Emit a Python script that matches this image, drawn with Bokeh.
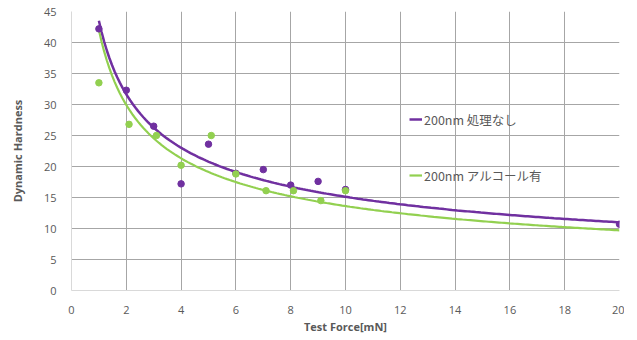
import numpy as np
from bokeh.plotting import figure
from bokeh.models import Legend, LegendItem, Range1d, FixedTicker
from bokeh.embed import file_html
from bokeh.resources import INLINE

# Data
force_a = [1, 2, 3, 4, 5, 6, 7, 8, 9, 10, 20]
hard_a = [42.2, 32.3, 26.5, 17.2, 23.6, 18.9, 19.5, 17.0, 17.6, 16.3, 10.7]
force_b = [1, 2.1, 3.1, 4, 5.1, 6, 7.1, 8.1, 9.1, 10]
hard_b = [33.5, 26.8, 25.0, 20.2, 25.0, 18.8, 16.1, 16.1, 14.5, 16.1]

# Power trend-line coefficients (y = a * x^b)
trend_a = (43.5, -0.459)
trend_b = (42.0, -0.489)

label_a = "200nm 処理なし"
label_b = "200nm アルコール有"
x_ticks = [0, 2, 4, 6, 8, 10, 12, 14, 16, 18, 20]
y_ticks = [0, 5, 10, 15, 20, 25, 30, 35, 40, 45]

PURPLE = "#7030A0"
GREEN = "#92D050"
TXT = "#595959"
FONT = "Open Sans"

p = figure(frame_width=548, frame_height=279, output_backend="svg", toolbar_location=None,
           x_range=Range1d(0, 20), y_range=Range1d(0, 45),
           min_border_left=71, min_border_right=5, min_border_top=11, min_border_bottom=36)
p.outline_line_color = None

xs = np.linspace(1, 20, 200)
la = p.line(xs, trend_a[0] * xs ** trend_a[1], line_color=PURPLE, line_width=2.5)
lb = p.line(xs, trend_b[0] * xs ** trend_b[1], line_color=GREEN, line_width=2.2)
p.scatter(force_a, hard_a, size=6.5, color=PURPLE)
p.scatter(force_b, hard_b, size=6.5, color=GREEN)

for ax in (p.xaxis[0], p.yaxis[0]):
    ax.major_tick_line_color = None
    ax.minor_tick_line_color = None
    ax.major_label_text_color = TXT
    ax.major_label_text_font = FONT
    ax.major_label_text_font_size = "11px"
    ax.axis_label_text_color = TXT
    ax.axis_label_text_font = FONT
    ax.axis_label_text_font_size = "11px"
    ax.axis_label_text_font_style = "bold"
    ax.axis_line_color = "#d9d9d9"

p.xaxis.ticker = FixedTicker(ticks=x_ticks)
p.yaxis.ticker = FixedTicker(ticks=y_ticks)
p.xaxis.axis_label = "Test Force[mN]"
p.yaxis.axis_label = "Dynamic Hardness"
p.xaxis.major_label_standoff = 9
p.yaxis.major_label_standoff = 9
p.xaxis.axis_label_standoff = 2
p.yaxis.axis_label_standoff = 16

p.xgrid.ticker = FixedTicker(ticks=x_ticks)
p.ygrid.ticker = FixedTicker(ticks=y_ticks)
p.grid.grid_line_color = "#a6a6a6"
p.grid.grid_line_width = 1

legend = Legend(items=[LegendItem(label=label_a, renderers=[la]),
                       LegendItem(label=label_b, renderers=[lb])],
                location=(338, 105), orientation="vertical",
                padding=0, margin=0, spacing=36,
                label_height=20, glyph_height=20, glyph_width=13, label_standoff=2,
                label_text_font="Noto Sans CJK JP", label_text_font_size="12.5px",
                label_text_color=TXT,
                background_fill_alpha=0, border_line_alpha=0)
p.add_layout(legend)

open("out.html", "w").write(file_html(p, INLINE))
